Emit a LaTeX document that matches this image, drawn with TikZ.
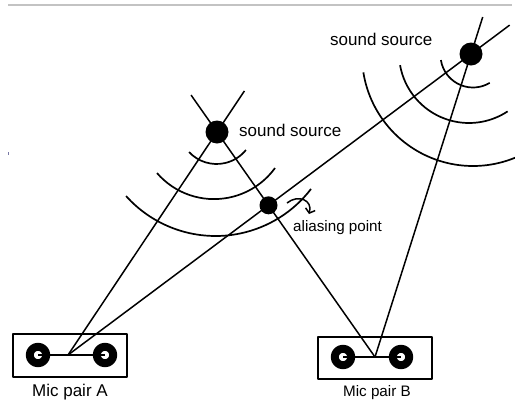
\documentclass[tikz,border=0pt]{standalone}
\usepackage{fontspec}
\setmainfont{Liberation Sans}
\usetikzlibrary{calc,arrows.meta}
\definecolor{rulegray}{RGB}{195,195,195}
\definecolor{speck}{RGB}{120,120,165}

\begin{document}
\begin{tikzpicture}[x=1pt,y=-1pt,line join=round,
  ray/.style={line width=1.5pt},
  wave/.style={line width=1.7pt},
  src/.style={circle,fill=black,inner sep=0pt,minimum size=23pt},
  aliasdot/.style={circle,fill=black,inner sep=0pt,minimum size=18pt},
  micbox/.style={draw,line width=1.6pt,inner sep=0pt,minimum width=114pt},
  mic/.style={circle,draw=black,fill=white,line width=8pt,inner sep=0pt,minimum size=16.5pt},
  lbl/.style={inner sep=0pt,font=\fontsize{17}{20}\selectfont},
  smalllbl/.style={inner sep=0pt,font=\fontsize{15.2}{18}\selectfont}]
\useasboundingbox (0,0) rectangle (515,400);
\clip (0,0) rectangle (515,400);

% thin rule along the top edge and a small speck at the left
\draw[rulegray,line width=1.4pt] (8,5) -- (512,5);
\draw[speck,line width=0.9pt] (8,152) -- (8,155);

% microphone pairs
\node[micbox,minimum height=43pt] (boxA) at (70,355.5) {};
\node[micbox,minimum height=42pt] (boxB) at (375,358) {};
\node[mic] (mA1) at (38,355) {};
\node[mic] (mA2) at (105,355) {};
\node[mic] (mB1) at (343,357) {};
\node[mic] (mB2) at (401,357) {};
\draw[ray] (mA1.center) -- (mA2.center);
\draw[ray] (mB1.center) -- (mB2.center);
\coordinate (jA) at (68,355);
\coordinate (jB) at (375,357);

% sound sources
\node[src] (s1) at (217,132) {};
\node[src] (s2) at (471,54) {};

% bearing lines from each pair through the sources
\coordinate (t1) at ($(jA)!1.184!(s1.center)$);
\coordinate (t2) at ($(jB)!1.164!(s1.center)$);
\coordinate (t3) at ($(jA)!1.096!(s2.center)$);
\coordinate (t4) at ($(jB)!1.122!(s2.center)$);
\draw[ray] (jA) -- (t1);
\draw[ray] (jB) -- (t2);
\draw[ray] (jA) -- (t3);
\draw[ray] (jB) -- (t4);

% wavefronts around the first source
\draw[wave] ([shift={(216.6,126.3)}]137:37.7) arc[start angle=137,end angle=39,radius=37.7];
\draw[wave] ([shift={(214,123.7)}]139.1:75.4) arc[start angle=139.1,end angle=36,radius=75.4];
\draw[wave] ([shift={(215.6,115.7)}]138.1:120.3) arc[start angle=138.1,end angle=37.5,radius=120.3];

% wavefronts around the second source
\draw[wave] ([shift={(473,55)}]171:32.5) arc[start angle=171,end angle=59,radius=32.5];
\draw[wave] ([shift={(469,53)}]170:70) arc[start angle=170,end angle=56.5,radius=70];
\draw[wave] ([shift={(473,55)}]171:111) arc[start angle=171,end angle=58,radius=111];

% ghost intersection
\coordinate (al) at (intersection of jA--s2.center and jB--s1.center);
\node[aliasdot] (alp) at (al) {};
\coordinate (hk1) at (287,203);
\coordinate (hk2) at (309,214);
\draw[ray,-{Straight Barb[length=4pt,width=10pt]}] (hk1) .. controls (298,194) and (313,200) .. (hk2);

% labels
\node[lbl,anchor=base west] (l1) at (239,136) {sound source};
\node[lbl,anchor=base west] (l2) at (330,45) {sound source};
\node[smalllbl,anchor=base west] (l3) at (293,231) {aliasing point};
\node[lbl,anchor=base west] (l4) at (32,396.5) {Mic pair A};
\node[smalllbl,anchor=base west] (l5) at (343,396.5) {Mic pair B};
\end{tikzpicture}
\end{document}
